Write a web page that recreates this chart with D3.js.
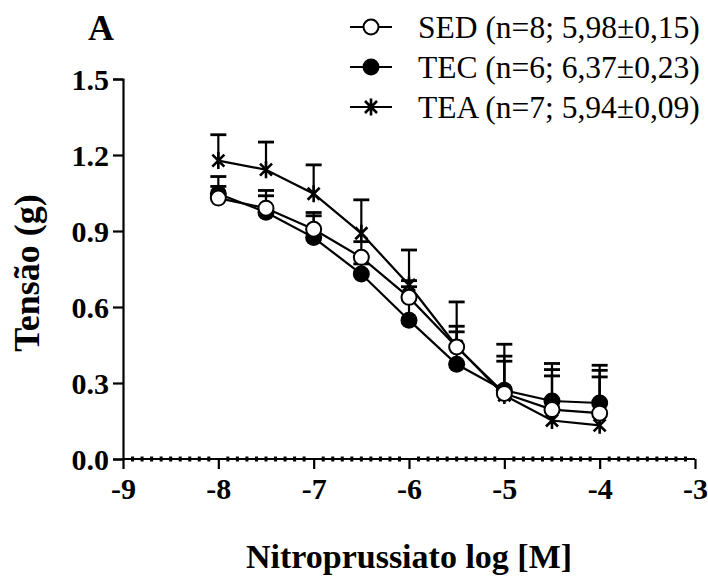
<!DOCTYPE html>
<html>
<head>
<meta charset="utf-8">
<script src="https://cdn.jsdelivr.net/npm/d3@7"></script>
<style>
  body { margin: 0; background: #fff; }
  text { font-family: "Liberation Serif", "Times New Roman", serif; }
</style>
</head>
<body>
<script>
// Sizes
const w = 708;
const h = 581;
const margin = { top: 79, right: 13, bottom: 122, left: 123 };

// Data
const concentrations = [-8, -7.5, -7, -6.5, -6, -5.5, -5, -4.5, -4];
const sedMean = [1.030, 0.990, 0.907, 0.796, 0.638, 0.442, 0.259, 0.195, 0.181];
const sedSem = [0.085, 0.070, 0.066, 0.062, 0.066, 0.082, 0.194, 0.182, 0.189];
const tecMean = [1.047, 0.974, 0.874, 0.730, 0.548, 0.374, 0.271, 0.229, 0.221];
const tecSem = [0.029, 0.065, 0.086, 0.040, 0.132, 0.128, 0.135, 0.124, 0.129];
const teaMean = [1.178, 1.142, 1.047, 0.891, 0.687, 0.445, 0.251, 0.152, 0.133];
const teaSem = [0.102, 0.109, 0.114, 0.132, 0.138, 0.175, 0.135, 0.176, 0.191];
const legendLabels = ["SED (n=8; 5,98±0,15)", "TEC (n=6; 6,37±0,23)", "TEA (n=7; 5,94±0,09)"];
const xTicks = [-9, -8, -7, -6, -5, -4, -3];
const yTicks = [0, 0.3, 0.6, 0.9, 1.2, 1.5];

const series = [
  { name: "TEA", mean: teaMean, sem: teaSem, marker: "star" },
  { name: "TEC", mean: tecMean, sem: tecSem, marker: "filled" },
  { name: "SED", mean: sedMean, sem: sedSem, marker: "open" }
];

const svg = d3.select("body").append("svg").attr("width", w).attr("height", h);

const x = d3.scaleLinear().domain([-9, -3]).range([margin.left, w - margin.right]);
const y = d3.scaleLinear().domain([0, 1.5]).range([h - margin.bottom, margin.top]);

// Axes
const xAxis = svg.append("g")
  .attr("transform", `translate(0,${y(0)})`)
  .call(d3.axisBottom(x).tickValues(xTicks).tickSize(10).tickPadding(8).tickFormat((d) => String(d)));
const yAxis = svg.append("g")
  .attr("transform", `translate(${x(-9)},0)`)
  .call(d3.axisLeft(y).tickValues(yTicks).tickSize(10).tickPadding(4).tickFormat(d3.format(".1f")));

[xAxis, yAxis].forEach((g) => {
  g.select(".domain").attr("stroke-width", 2.2);
  g.selectAll(".tick line").attr("stroke-width", 2.2);
  g.selectAll(".tick text")
    .attr("font-family", "Liberation Serif, Times New Roman, serif")
    .attr("font-weight", "bold")
    .attr("font-size", 30)
    .attr("fill", "#000");
});
xAxis.select(".domain").attr("d", `M${x(-9)},0H${x(-3)}`);
xAxis.selectAll(".tick text").attr("dy", "0.72em");
yAxis.selectAll(".tick text").attr("dy", "0.34em");

// minor ticks on the x axis
const minor = d3.range(-9, -3, 0.1).filter((d) => Math.abs(d - Math.round(d)) > 0.01);
svg.append("g").selectAll("rect").data(minor).enter().append("rect")
  .attr("x", (d) => x(d) - 1.5)
  .attr("y", y(0) - 2.5)
  .attr("width", 3)
  .attr("height", 5)
  .attr("fill", "#000");

// Marker drawing
function drawMarker(g, type, cx, cy) {
  if (type === "open") {
    g.append("circle").attr("cx", cx).attr("cy", cy).attr("r", 7.5)
      .attr("fill", "#fff").attr("stroke", "#000").attr("stroke-width", 2);
  } else if (type === "filled") {
    g.append("circle").attr("cx", cx).attr("cy", cy).attr("r", 8.5).attr("fill", "#000");
  } else {
    const r = 8.5;
    const a = Math.PI / 4;
    const p = `M${cx},${cy - r}V${cy + r}` +
      `M${cx - r * Math.sin(a)},${cy - r * Math.cos(a)}L${cx + r * Math.sin(a)},${cy + r * Math.cos(a)}` +
      `M${cx + r * Math.sin(a)},${cy - r * Math.cos(a)}L${cx - r * Math.sin(a)},${cy + r * Math.cos(a)}`;
    g.append("path").attr("d", p).attr("stroke", "#000").attr("stroke-width", 2.6).attr("fill", "none");
  }
}

const line = d3.line().x((d, i) => x(concentrations[i])).y((d) => y(d));

series.forEach((s) => {
  const g = svg.append("g");
  // error bars (upper only)
  s.mean.forEach((m, i) => {
    const cx = x(concentrations[i]);
    g.append("line").attr("x1", cx).attr("x2", cx)
      .attr("y1", y(m)).attr("y2", y(m + s.sem[i]))
      .attr("stroke", "#000").attr("stroke-width", 2.2);
    g.append("line").attr("x1", cx - 8).attr("x2", cx + 8)
      .attr("y1", y(m + s.sem[i])).attr("y2", y(m + s.sem[i]))
      .attr("stroke", "#000").attr("stroke-width", 2.8);
  });
  g.append("path").datum(s.mean).attr("d", line)
    .attr("fill", "none").attr("stroke", "#000").attr("stroke-width", 2.2);
  s.mean.forEach((m, i) => drawMarker(g, s.marker, x(concentrations[i]), y(m)));
});

// Legend
const legendMarkers = ["open", "filled", "star"];
const legend = svg.append("g");
legendLabels.forEach((label, i) => {
  const ly = 27 + i * 40;
  legend.append("line").attr("x1", 350).attr("x2", 392).attr("y1", ly).attr("y2", ly)
    .attr("stroke", "#000").attr("stroke-width", 2.2);
  drawMarker(legend, legendMarkers[i], 371, ly);
  legend.append("text").attr("x", 418).attr("y", ly).attr("dy", "0.35em")
    .attr("font-size", 31.5).text(label);
});

// Panel letter
svg.append("text").attr("x", 88).attr("y", 40).attr("font-size", 36)
  .attr("font-weight", "bold").text("A");

// Axis titles
svg.append("text")
  .attr("x", (x(-9) + x(-3)) / 2)
  .attr("y", 568)
  .attr("text-anchor", "middle")
  .attr("font-size", 34)
  .attr("font-weight", "bold")
  .text("Nitroprussiato log [M]");

svg.append("text")
  .attr("transform", `translate(39,${(y(0) + y(1.5)) / 2 + 4}) rotate(-90)`)
  .attr("text-anchor", "middle")
  .attr("font-size", 36)
  .attr("font-weight", "bold")
  .text("Tensão (g)");
</script>
</body>
</html>
